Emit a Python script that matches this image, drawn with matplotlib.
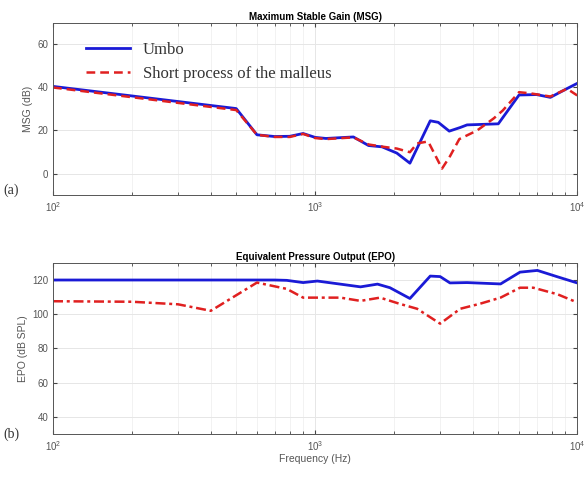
import matplotlib
matplotlib.use('Agg')
import matplotlib.pyplot as plt
import numpy as np

# MSG curves (dB)
msg_f_umbo = [100, 500, 600, 700, 800, 900, 1000, 1100, 1400, 1600, 1800, 2050, 2300,
              2750, 2950, 3250, 3580, 3800, 5000, 6000, 7000, 7900, 9150, 10000]
msg_umbo = [40.5, 30.2, 18.0, 17.2, 17.3, 18.6, 16.8, 16.3, 17.0, 13.0, 12.4, 9.5, 4.8,
            24.5, 23.8, 19.7, 21.4, 22.6, 23.1, 36.5, 36.7, 35.4, 39.5, 41.9]
msg_f_spm = [100, 500, 600, 700, 800, 900, 1000, 1100, 1400, 1600, 1800, 2050, 2300,
             2450, 2700, 3050, 3270, 3550, 4150, 4800, 5200, 6000, 6600, 7900, 9150, 10000]
msg_spm = [40.0, 29.5, 18.0, 17.0, 17.0, 18.4, 16.5, 16.0, 16.8, 13.5, 12.5, 11.6, 9.9,
           14.0, 14.9, 2.3, 8.0, 16.0, 20.0, 25.6, 29.3, 37.8, 37.3, 35.8, 39.4, 36.3]

# EPO curves (dB SPL)
epo_f_umbo = [100, 700, 780, 900, 1020, 1490, 1730, 1930, 2300, 2750, 3000, 3270, 3800,
              5100, 6050, 7050, 8400, 10000]
epo_umbo = [120.0, 120.0, 119.8, 118.5, 119.4, 116.0, 117.6, 115.5, 109.2, 122.3, 122.0,
            118.3, 118.5, 117.7, 124.6, 125.6, 121.9, 118.3]
epo_f_spm = [100, 200, 300, 400, 600, 780, 900, 1250, 1490, 1770, 2100, 2450, 3000, 3580,
             4250, 5100, 6050, 6800, 8400, 10000]
epo_spm = [107.6, 107.3, 105.8, 102.0, 118.5, 114.8, 109.7, 109.7, 107.8, 109.7, 106.1,
           103.2, 94.5, 103.2, 106.1, 109.7, 115.5, 115.5, 111.7, 106.9]

blue = '#1a1ad6'
red = '#e02020'
gray = '#555555'

plt.rcParams['font.family'] = ['Liberation Sans', 'DejaVu Sans']
plt.rcParams['mathtext.fontset'] = 'custom'
plt.rcParams['mathtext.rm'] = 'Liberation Sans'

fig = plt.figure(figsize=(5.87, 4.78), dpi=100)
ax1 = fig.add_axes([0.0903, 0.592, 0.893, 0.360])
ax2 = fig.add_axes([0.0903, 0.092, 0.893, 0.358])


def style(ax, ylim, yticks):
    ax.set_xscale('log')
    ax.set_xlim(100, 10000)
    ax.set_ylim(*ylim)
    ax.set_yticks(yticks)
    ax.grid(True, which='major', color='#e6e6e6', lw=0.7)
    ax.grid(True, which='minor', axis='x', color='#f0f0f0', lw=0.6)
    ax.set_axisbelow(True)
    ax.tick_params(which='both', direction='in', top=True, right=True,
                   labelsize=7, colors='#444444', labelcolor=gray)
    ax.tick_params(which='major', length=3)
    ax.tick_params(which='minor', length=2)
    for s in ax.spines.values():
        s.set_color('#555555')
        s.set_linewidth(0.7)


ax1.plot(msg_f_umbo, msg_umbo, color=blue, lw=2.0, label='Umbo')
ax1.plot(msg_f_spm, msg_spm, color=red, lw=1.8, ls=(0, (3.5, 2)),
         label='Short process of the malleus')
style(ax1, (-10, 70), [0, 20, 40, 60])
ax1.set_title('Maximum Stable Gain (MSG)', fontsize=7, fontweight='bold', pad=2)
ax1.set_ylabel('MSG (dB)', fontsize=7.5, color=gray, labelpad=3)
leg = ax1.legend(loc='upper left', bbox_to_anchor=(0.035, 0.975), frameon=False,
                 prop={'family': 'Liberation Serif', 'size': 12},
                 handlelength=2.6, handletextpad=0.8, labelspacing=0.45)
for t in leg.get_texts():
    t.set_color('#333333')

ax2.plot(epo_f_umbo, epo_umbo, color=blue, lw=2.0)
ax2.plot(epo_f_spm, epo_spm, color=red, lw=1.8, ls=(0, (4, 1.5, 1.2, 1.5)))
style(ax2, (30, 130), [40, 60, 80, 100, 120])
ax2.set_title('Equivalent Pressure Output (EPO)', fontsize=7, fontweight='bold', pad=2)
ax2.set_ylabel('EPO (dB SPL)', fontsize=7.5, color=gray, labelpad=3)
ax2.set_xlabel('Frequency (Hz)', fontsize=7.5, color=gray, labelpad=1)

fig.text(0.005, 0.595, '(a)', family='Liberation Serif', fontsize=10, color='#333333')
fig.text(0.005, 0.085, '(b)', family='Liberation Serif', fontsize=10, color='#333333')

fig.savefig('out.png', dpi=100, facecolor='white')
